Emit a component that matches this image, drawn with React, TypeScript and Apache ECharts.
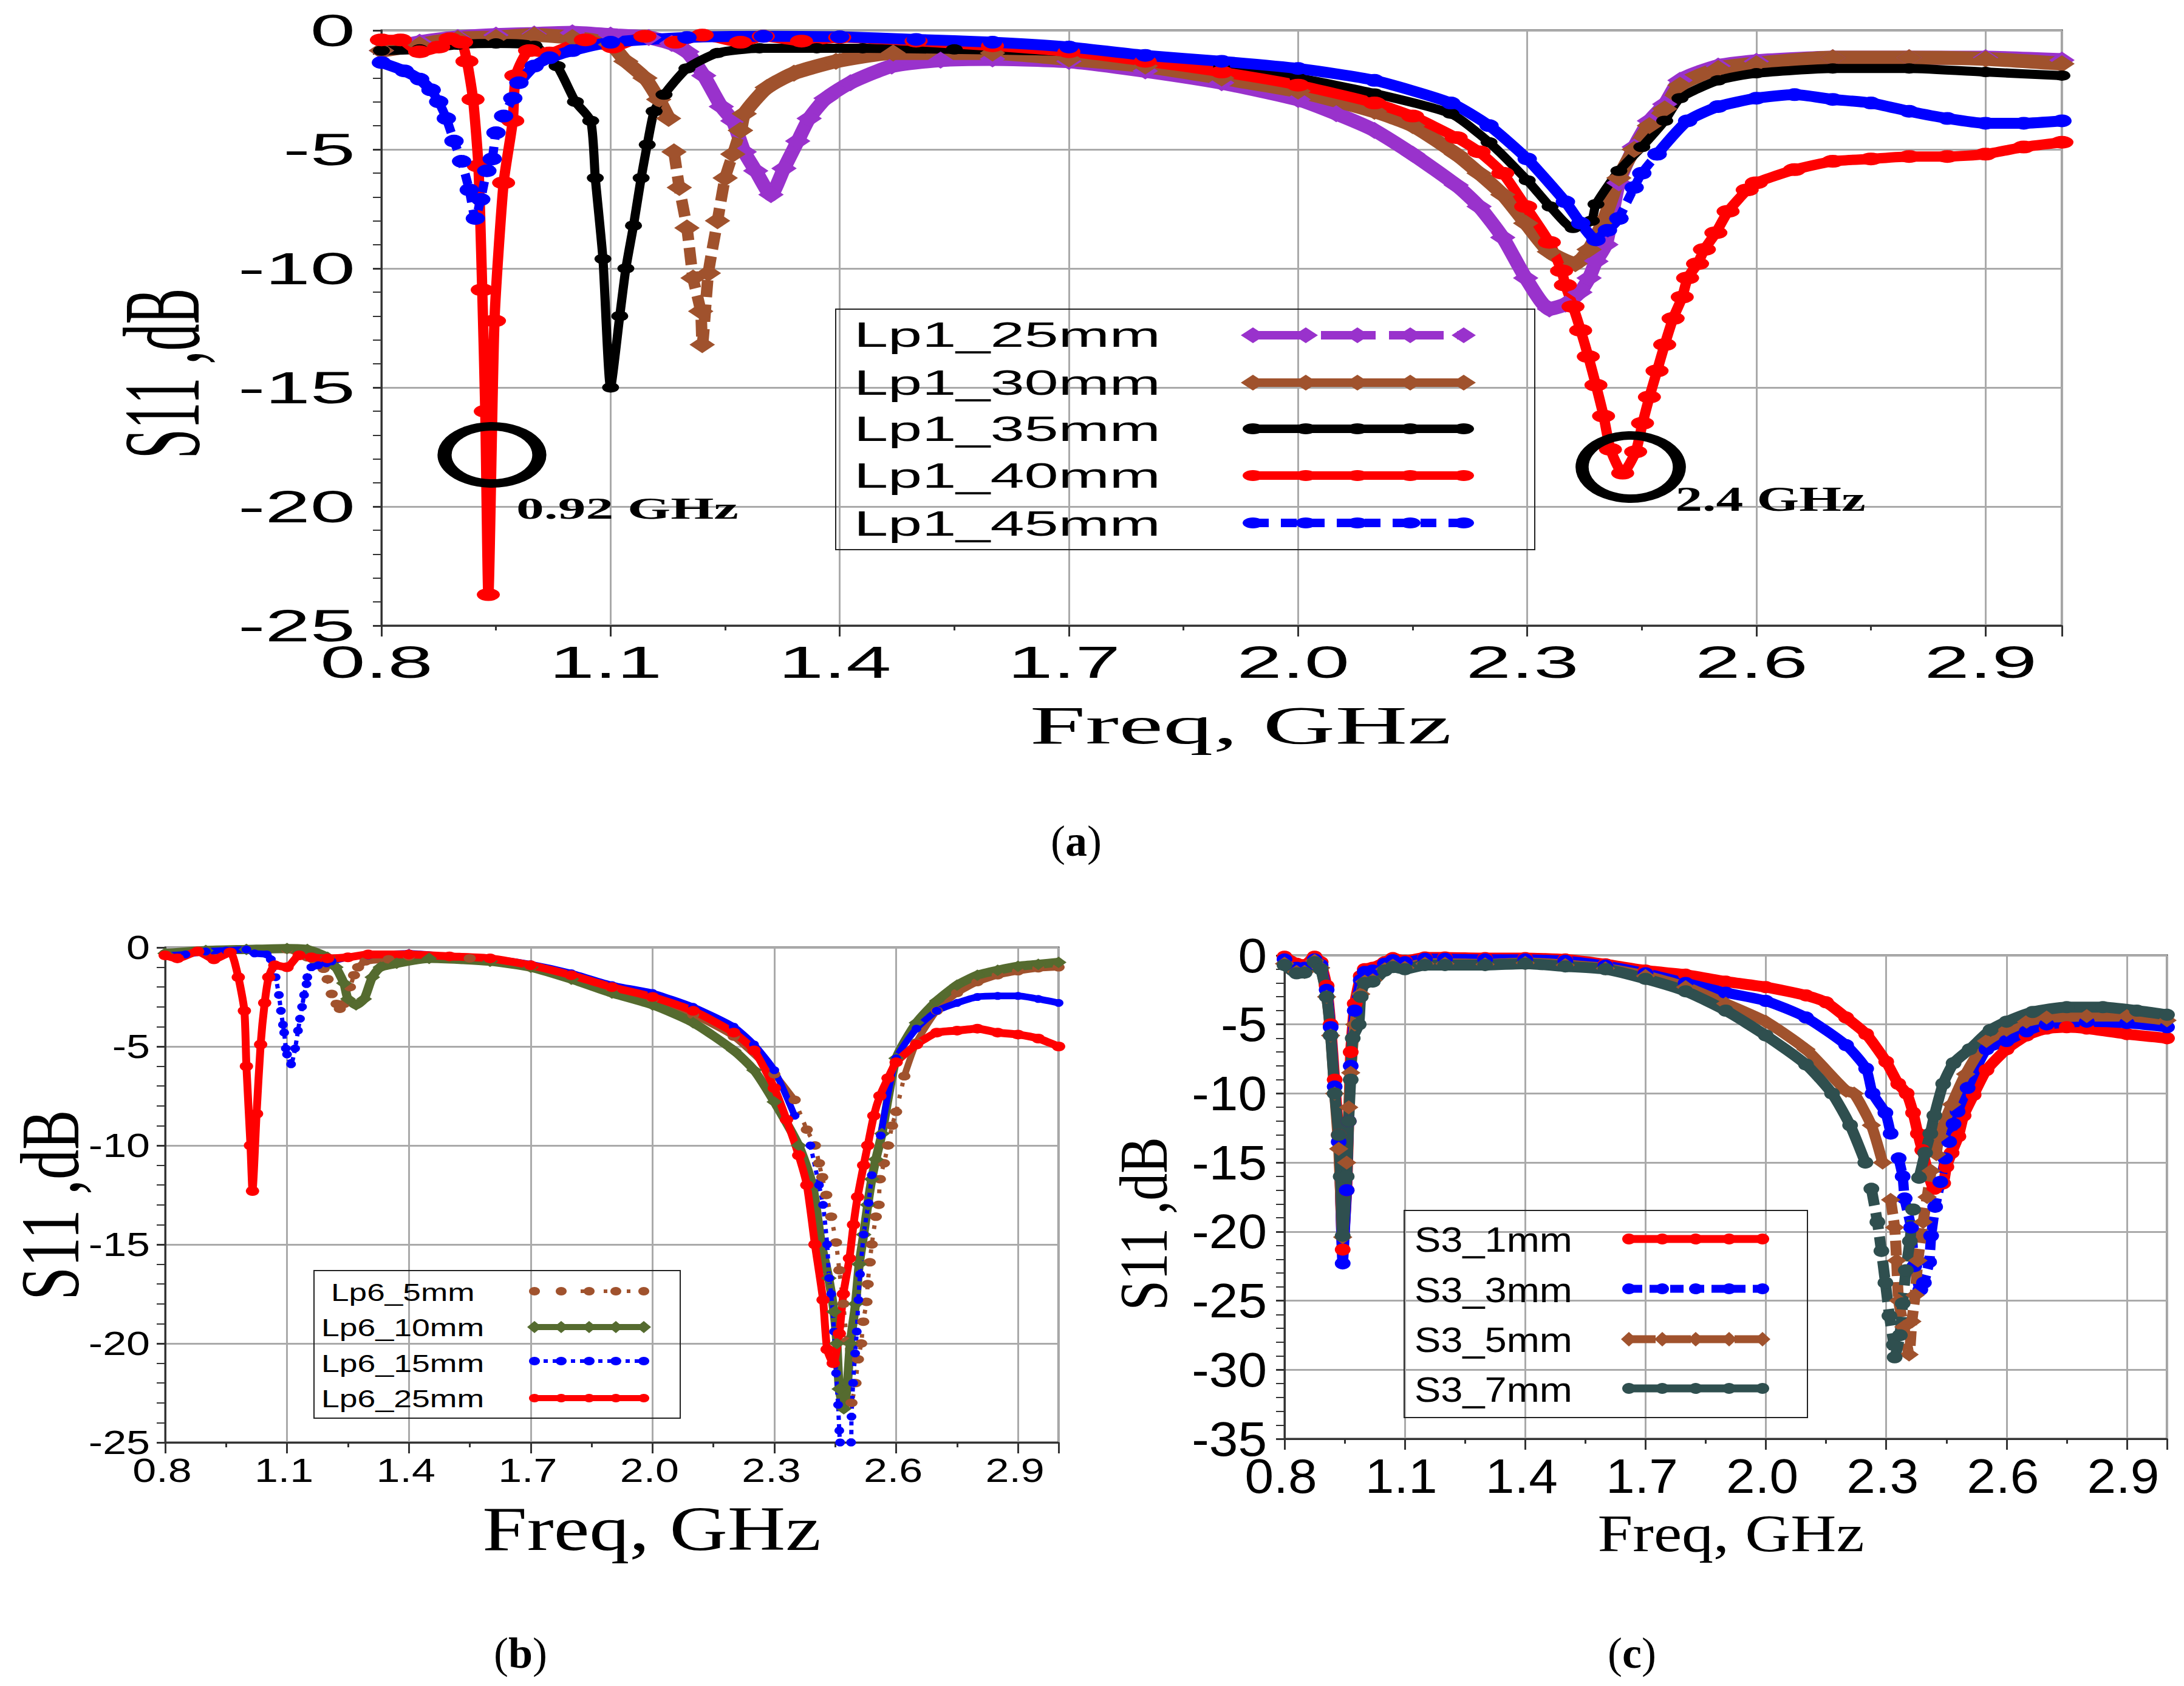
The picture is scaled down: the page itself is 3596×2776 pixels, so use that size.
import { useEffect, useRef } from 'react';
import * as echarts from 'echarts';

type Pt = [number, number];

const SANS = '"Liberation Sans"';
const SERIF = '"Liberation Serif"';

const COLORS = {
  purple: '#9932CC',
  brown: '#A0522D',
  black: '#000000',
  red: '#FF0000',
  blue: '#0000FF',
  olive: '#556B2F',
  slate: '#2F4F4F',
};

const xTickLabels = ['0.8', '1.1', '1.4', '1.7', '2.0', '2.3', '2.6', '2.9'];
const xMinorTicks = [0.95, 1.25, 1.55, 1.85, 2.15, 2.45, 2.75];
const yTickLabels25 = ['0', '-5', '-10', '-15', '-20', '-25'];
const yTickLabels35 = ['0', '-5', '-10', '-15', '-20', '-25', '-30', '-35'];

const legendA = ['Lp1_25mm', 'Lp1_30mm', 'Lp1_35mm', 'Lp1_40mm', 'Lp1_45mm'];
const legendB = ['Lp6_5mm', 'Lp6_10mm', 'Lp6_15mm', 'Lp6_25mm'];
const legendC = ['S3_1mm', 'S3_3mm', 'S3_5mm', 'S3_7mm'];

// panel (a)
const lp1_25: Pt[] = [[0.8,-0.85],[0.85,-0.5],[0.9,-0.3],[0.95,-0.2],[1.0,-0.15],[1.05,-0.1],[1.1,-0.2],[1.15,-0.3],[1.18,-0.55],[1.2,-0.9],[1.222,-1.9],[1.245,-3.2],[1.26,-3.8],[1.275,-5.1],[1.29,-5.9],[1.31,-6.9],[1.327,-5.8],[1.345,-4.65],[1.36,-3.7],[1.382,-2.85],[1.414,-2.2],[1.468,-1.5],[1.532,-1.25],[1.6,-1.2],[1.7,-1.3],[1.8,-1.7],[1.9,-2.2],[2.0,-2.9],[2.05,-3.5],[2.1,-4.2],[2.15,-5.2],[2.207,-6.5],[2.237,-7.4],[2.268,-8.7],[2.298,-10.4],[2.329,-11.7],[2.35,-11.5],[2.369,-11],[2.381,-10.4],[2.39,-9.7],[2.403,-9],[2.42,-6.4],[2.44,-4.9],[2.46,-3.8],[2.48,-3.1],[2.5,-2.1],[2.55,-1.5],[2.6,-1.3],[2.7,-1.15],[2.8,-1.15],[2.9,-1.15],[3.0,-1.25]];
const lp1_30: Pt[] = [[0.8,-0.85],[0.85,-0.6],[0.9,-0.35],[0.95,-0.3],[1.0,-0.2],[1.05,-0.3],[1.1,-0.6],[1.12,-1.3],[1.145,-2],[1.163,-2.9],[1.176,-3.7],[1.183,-5.1],[1.19,-6.6],[1.2,-8.3],[1.208,-10.4],[1.218,-11.8],[1.22,-13.2],[1.228,-10.2],[1.24,-8],[1.25,-6.2],[1.26,-5.2],[1.27,-4.2],[1.275,-3.5],[1.305,-2.4],[1.34,-1.8],[1.395,-1.3],[1.47,-0.95],[1.6,-0.95],[1.7,-1.2],[1.8,-1.5],[1.9,-2],[2.0,-2.55],[2.1,-3.4],[2.15,-4],[2.207,-5.2],[2.237,-6],[2.268,-6.9],[2.298,-8.1],[2.329,-9.3],[2.363,-9.8],[2.381,-9.2],[2.4,-8],[2.42,-6.2],[2.44,-5],[2.46,-4],[2.48,-3.3],[2.5,-2.3],[2.55,-1.6],[2.6,-1.4],[2.7,-1.15],[2.8,-1.15],[2.9,-1.2],[3.0,-1.4]];
const lp1_35: Pt[] = [[0.8,-0.85],[0.85,-0.8],[0.9,-0.6],[0.95,-0.55],[1.0,-0.65],[1.03,-1.5],[1.054,-3],[1.074,-3.8],[1.08,-6.2],[1.09,-9.6],[1.1,-15],[1.112,-12],[1.12,-10],[1.13,-8.2],[1.14,-6.2],[1.148,-4.8],[1.157,-3.4],[1.17,-2.7],[1.2,-1.6],[1.24,-0.95],[1.295,-0.75],[1.37,-0.75],[1.43,-0.75],[1.55,-0.8],[1.7,-0.9],[1.8,-1.2],[1.9,-1.55],[2.0,-2],[2.1,-2.65],[2.2,-3.5],[2.25,-4.7],[2.3,-6.3],[2.33,-7.4],[2.36,-8.3],[2.384,-8],[2.39,-7.3],[2.42,-5.9],[2.45,-4.9],[2.48,-3.8],[2.5,-2.85],[2.55,-2.1],[2.6,-1.8],[2.7,-1.6],[2.8,-1.6],[2.9,-1.75],[3.0,-1.9]];
const lp1_40: Pt[] = [[0.8,-0.4],[0.825,-0.4],[0.85,-0.9],[0.875,-0.7],[0.89,-0.35],[0.905,-0.5],[0.912,-1.3],[0.92,-2.9],[0.927,-5.7],[0.932,-10.9],[0.936,-16],[0.94,-23.7],[0.948,-12.2],[0.96,-6.4],[0.972,-3.8],[0.976,-1.9],[0.994,-0.85],[1.02,-0.95],[1.067,-0.4],[1.103,-0.7],[1.145,-0.25],[1.185,-0.5],[1.22,-0.2],[1.27,-0.5],[1.3,-0.25],[1.35,-0.45],[1.4,-0.3],[1.5,-0.45],[1.6,-0.65],[1.7,-0.9],[1.8,-1.3],[1.9,-1.75],[2.0,-2.3],[2.1,-3.05],[2.15,-3.6],[2.207,-4.5],[2.237,-5.1],[2.268,-6],[2.298,-7.4],[2.329,-8.9],[2.345,-10.1],[2.35,-10.7],[2.36,-11.6],[2.37,-12.6],[2.38,-13.7],[2.39,-14.9],[2.4,-16.2],[2.409,-17.6],[2.425,-18.6],[2.442,-17.7],[2.451,-16.5],[2.46,-15.4],[2.47,-14.3],[2.48,-13.2],[2.491,-12.1],[2.503,-11.2],[2.51,-10.4],[2.523,-9.8],[2.532,-9.2],[2.547,-8.5],[2.563,-7.6],[2.588,-6.7],[2.6,-6.4],[2.65,-5.85],[2.7,-5.5],[2.75,-5.4],[2.8,-5.3],[2.85,-5.3],[2.9,-5.2],[2.95,-4.9],[3.0,-4.7]];
const lp1_45: Pt[] = [[0.8,-1.35],[0.83,-1.7],[0.85,-2.05],[0.865,-2.5],[0.875,-3],[0.885,-3.7],[0.895,-4.65],[0.905,-5.5],[0.915,-6.7],[0.923,-7.9],[0.93,-7.1],[0.938,-5.9],[0.945,-5.4],[0.95,-4.3],[0.96,-3.6],[0.972,-2.85],[0.98,-2.2],[1.0,-1.5],[1.02,-1.15],[1.05,-0.85],[1.1,-0.5],[1.2,-0.3],[1.3,-0.25],[1.4,-0.27],[1.5,-0.38],[1.6,-0.5],[1.7,-0.7],[1.8,-1.05],[1.9,-1.3],[2.0,-1.6],[2.1,-2.1],[2.2,-3.05],[2.25,-4],[2.3,-5.4],[2.35,-7.2],[2.37,-8.1],[2.39,-8.8],[2.405,-8.4],[2.42,-7.9],[2.44,-6.6],[2.45,-6],[2.47,-5.2],[2.51,-3.8],[2.55,-3.2],[2.6,-2.85],[2.65,-2.7],[2.7,-2.9],[2.75,-3.05],[2.8,-3.4],[2.85,-3.7],[2.9,-3.9],[2.95,-3.9],[3.0,-3.8]];

// panel (b)
const lp6_5: Pt[] = [[0.8,-0.3],[0.9,-0.15],[1.0,-0.1],[1.1,-0.1],[1.15,-0.5],[1.19,-1.07],[1.2,-1.6],[1.21,-2.35],[1.222,-2.85],[1.23,-3.1],[1.24,-2.85],[1.255,-2],[1.265,-1.4],[1.275,-1],[1.293,-0.7],[1.35,-0.6],[1.4,-0.45],[1.55,-0.55],[1.7,-1],[1.8,-1.5],[1.9,-2.1],[2.0,-2.6],[2.1,-3.4],[2.2,-4.5],[2.3,-6.4],[2.35,-7.7],[2.38,-9.2],[2.4,-10],[2.41,-10.9],[2.418,-11.6],[2.428,-12.5],[2.44,-13.6],[2.452,-14.9],[2.46,-16.3],[2.47,-18],[2.478,-19.9],[2.49,-23],[2.5,-22],[2.506,-20.8],[2.514,-20],[2.519,-18.9],[2.527,-17.9],[2.53,-17],[2.535,-15.9],[2.54,-15],[2.55,-13.6],[2.557,-13],[2.56,-11.7],[2.57,-10.9],[2.58,-10],[2.59,-9],[2.6,-8.3],[2.62,-6.5],[2.65,-4.8],[2.7,-3.2],[2.75,-2.3],[2.8,-1.75],[2.85,-1.4],[2.9,-1.2],[2.95,-1.05],[3.0,-1]];
const lp6_10: Pt[] = [[0.8,-0.3],[0.9,-0.15],[1.0,-0.1],[1.1,-0.05],[1.15,-0.1],[1.2,-0.5],[1.22,-1],[1.24,-1.8],[1.25,-2.6],[1.27,-2.9],[1.29,-2.6],[1.31,-1.5],[1.33,-1],[1.37,-0.8],[1.45,-0.55],[1.6,-0.7],[1.7,-1],[1.8,-1.6],[1.9,-2.3],[2.0,-2.9],[2.1,-3.8],[2.2,-5.2],[2.25,-6.2],[2.3,-7.8],[2.36,-10],[2.394,-12],[2.416,-15],[2.434,-16.7],[2.447,-18.4],[2.454,-20],[2.46,-22.3],[2.471,-23.3],[2.48,-22],[2.487,-20],[2.5,-18],[2.509,-16],[2.52,-14.5],[2.53,-13],[2.54,-11.7],[2.55,-10.7],[2.565,-9.4],[2.6,-5.6],[2.65,-3.8],[2.7,-2.7],[2.75,-1.9],[2.8,-1.4],[2.85,-1.15],[2.9,-0.95],[2.95,-0.85],[3.0,-0.75]];
const lp6_15: Pt[] = [[0.8,-0.4],[0.85,-0.35],[0.9,-0.2],[0.95,-0.15],[1.0,-0.1],[1.02,-0.3],[1.05,-0.35],[1.06,-0.6],[1.072,-1.5],[1.08,-2.4],[1.085,-3.2],[1.09,-3.9],[1.093,-4.3],[1.097,-5.1],[1.1,-5.4],[1.11,-5.9],[1.12,-5.1],[1.127,-4.2],[1.132,-3.6],[1.137,-3],[1.142,-2.4],[1.148,-1.85],[1.15,-1.5],[1.16,-1],[1.177,-0.9],[1.197,-0.8],[1.21,-0.7],[1.25,-0.5],[1.3,-0.4],[1.4,-0.3],[1.5,-0.45],[1.6,-0.55],[1.7,-0.85],[1.8,-1.3],[1.9,-1.9],[2.0,-2.3],[2.1,-3],[2.2,-4],[2.25,-4.9],[2.3,-6.2],[2.35,-8.5],[2.389,-10],[2.41,-12],[2.42,-13],[2.43,-15],[2.435,-16.7],[2.44,-17.5],[2.447,-19.4],[2.452,-21.5],[2.457,-23.1],[2.46,-24.4],[2.462,-25],[2.475,-26],[2.489,-25],[2.49,-23.7],[2.494,-22],[2.499,-20.5],[2.503,-19.4],[2.507,-17.8],[2.511,-16.5],[2.52,-14.5],[2.532,-12.9],[2.54,-11.5],[2.562,-9.5],[2.6,-5.6],[2.65,-4.1],[2.7,-3.2],[2.75,-2.8],[2.8,-2.5],[2.85,-2.45],[2.9,-2.45],[2.95,-2.6],[3.0,-2.8]];
const lp6_25: Pt[] = [[0.8,-0.4],[0.83,-0.55],[0.88,-0.2],[0.92,-0.6],[0.96,-0.25],[0.98,-1.5],[0.995,-3.2],[1.0,-6],[1.01,-10],[1.015,-12.3],[1.025,-8.4],[1.035,-4.9],[1.045,-2.8],[1.055,-1.5],[1.07,-0.9],[1.1,-1],[1.13,-0.4],[1.16,-0.5],[1.2,-0.55],[1.25,-0.5],[1.3,-0.35],[1.4,-0.35],[1.5,-0.45],[1.6,-0.55],[1.7,-0.9],[1.8,-1.4],[1.9,-2],[2.0,-2.5],[2.1,-3.2],[2.2,-4.3],[2.25,-5.2],[2.3,-7.1],[2.33,-8.7],[2.36,-10.5],[2.38,-12],[2.4,-15],[2.42,-17.8],[2.43,-20.3],[2.445,-21],[2.46,-19.5],[2.47,-17.5],[2.485,-15.7],[2.495,-14],[2.505,-12.6],[2.52,-11],[2.53,-10],[2.545,-8.5],[2.56,-7.5],[2.58,-6.6],[2.6,-5.8],[2.65,-4.9],[2.7,-4.3],[2.75,-4.2],[2.8,-4.1],[2.85,-4.3],[2.9,-4.4],[2.95,-4.6],[3.0,-5]];

// panel (c)
const s3_1: Pt[] = [[0.8,-0.1],[0.83,-0.6],[0.85,-0.7],[0.875,-0.1],[0.89,-0.5],[0.905,-2.2],[0.915,-5],[0.925,-9],[0.935,-13],[0.945,-21.3],[0.955,-17],[0.96,-12],[0.965,-7],[0.975,-3.5],[0.99,-1.5],[1.0,-1],[1.02,-0.9],[1.05,-0.5],[1.07,-0.2],[1.1,-0.4],[1.15,-0.15],[1.2,-0.15],[1.3,-0.2],[1.4,-0.2],[1.5,-0.3],[1.6,-0.65],[1.7,-1.1],[1.8,-1.4],[1.9,-1.9],[2.0,-2.3],[2.1,-2.9],[2.15,-3.4],[2.2,-4.5],[2.25,-5.7],[2.3,-7.7],[2.33,-9.3],[2.351,-10],[2.367,-11.4],[2.379,-12.9],[2.39,-14.1],[2.42,-16.9],[2.442,-16.5],[2.45,-15.3],[2.463,-14.3],[2.48,-13.1],[2.493,-11.6],[2.518,-10.1],[2.55,-8.3],[2.6,-6.8],[2.65,-5.8],[2.7,-5.3],[2.75,-5.2],[2.8,-5.3],[2.9,-5.7],[3.0,-6]];
const s3_3: Pt[] = [[0.8,-0.3],[0.83,-0.9],[0.85,-0.9],[0.875,-0.3],[0.89,-0.7],[0.905,-2.5],[0.915,-5.2],[0.925,-9.5],[0.935,-13.5],[0.945,-22.3],[0.955,-17],[0.96,-12],[0.965,-8],[0.975,-4],[0.99,-1.8],[1.0,-1.2],[1.02,-1.1],[1.05,-0.6],[1.07,-0.35],[1.1,-0.5],[1.15,-0.25],[1.2,-0.25],[1.3,-0.3],[1.4,-0.3],[1.5,-0.4],[1.6,-0.75],[1.7,-1.3],[1.8,-2],[1.9,-2.7],[2.0,-3.3],[2.1,-4.5],[2.2,-6.5],[2.25,-8.2],[2.266,-10],[2.298,-11.4],[2.311,-12.9],[2.331,-14.7],[2.341,-16],[2.346,-17.6],[2.362,-19.7],[2.37,-22.5],[2.385,-24.2],[2.394,-23.7],[2.407,-22.2],[2.412,-20.3],[2.422,-18.2],[2.435,-16.4],[2.447,-14.7],[2.457,-13.5],[2.468,-12.2],[2.478,-11.3],[2.503,-9.6],[2.55,-6.8],[2.6,-6.2],[2.65,-5.5],[2.7,-5],[2.8,-4.8],[2.9,-4.9],[3.0,-5.2]];
const s3_5: Pt[] = [[0.8,-0.6],[0.83,-1.2],[0.85,-1.2],[0.875,-0.4],[0.89,-0.9],[0.905,-3],[0.915,-5.8],[0.925,-10],[0.935,-14],[0.945,-20.4],[0.955,-15],[0.96,-11],[0.965,-8.5],[0.975,-5],[0.99,-2.8],[1.0,-1.9],[1.02,-1.8],[1.05,-1],[1.07,-0.75],[1.1,-0.9],[1.15,-0.6],[1.2,-0.6],[1.3,-0.65],[1.4,-0.55],[1.5,-0.7],[1.6,-0.95],[1.7,-1.5],[1.8,-2.3],[1.9,-3.5],[2.0,-4.8],[2.1,-6.8],[2.2,-9.8],[2.22,-10],[2.263,-12.3],[2.291,-15],[2.311,-17.7],[2.321,-19.7],[2.326,-22.1],[2.331,-25],[2.344,-26.9],[2.357,-28.9],[2.364,-26.5],[2.372,-24.6],[2.379,-22.1],[2.392,-19.3],[2.402,-17.5],[2.412,-15.6],[2.425,-14.4],[2.432,-13.1],[2.463,-10.8],[2.498,-8.6],[2.55,-6.2],[2.6,-5.4],[2.65,-4.8],[2.7,-4.5],[2.8,-4.4],[2.9,-4.4],[3.0,-4.7]];
const s3_7: Pt[] = [[0.8,-0.7],[0.83,-1.3],[0.85,-1.25],[0.875,-0.5],[0.89,-1],[0.905,-3],[0.915,-5.8],[0.925,-10],[0.935,-13],[0.94,-16],[0.945,-20.3],[0.955,-16],[0.96,-12],[0.965,-9],[0.97,-6],[0.985,-5],[0.99,-3],[1.0,-2],[1.02,-1.9],[1.05,-1.1],[1.07,-0.85],[1.1,-1],[1.15,-0.7],[1.2,-0.7],[1.3,-0.7],[1.4,-0.6],[1.5,-0.8],[1.6,-1],[1.7,-1.7],[1.8,-2.6],[1.9,-4],[2.0,-5.8],[2.1,-7.9],[2.165,-10],[2.21,-12.3],[2.248,-15],[2.263,-16.9],[2.278,-19.3],[2.288,-21.4],[2.298,-23.7],[2.308,-26.1],[2.319,-28.2],[2.321,-29.1],[2.334,-27.5],[2.341,-25.2],[2.349,-22.8],[2.359,-20.7],[2.367,-18.4],[2.382,-16.1],[2.397,-14.3],[2.41,-12.9],[2.42,-11.6],[2.442,-9.3],[2.468,-7.8],[2.508,-6.8],[2.56,-5.4],[2.6,-4.8],[2.665,-4.1],[2.75,-3.75],[2.84,-3.75],[2.925,-4],[3.0,-4.3]];

const panels = [
  { left: 628, top: 50, width: 2767, height: 980, yMin: -25, yLabels: yTickLabels25, fs: 75, sx: 1.78, xLabelY: 1090, xLabelShift: -8, yLabelX: 585 },
  { left: 272, top: 1560, width: 1471, height: 815, yMin: -25, yLabels: yTickLabels25, fs: 56, sx: 1.25, xLabelY: 2421, xLabelShift: -5, yLabelX: 247 },
  { left: 2115, top: 1573, width: 1453, height: 796, yMin: -35, yLabels: yTickLabels35, fs: 80, sx: 1.07, xLabelY: 2430, xLabelShift: -6, yLabelX: 2086 },
];

type Trace = {
  data: Pt[];
  name: string;
  color: string;
  panel: number;
  width: number;
  dashWidth?: number;
  symbol: string;
  size: [number, number];
  dash?: number[];
  dashRanges?: [number, number][];
  clip?: boolean;
};

const traces: Trace[] = [
  { data: lp1_25, name: legendA[0], color: COLORS.purple, panel: 0, width: 23, symbol: 'diamond', size: [42, 28] },
  { data: lp1_30, name: legendA[1], color: COLORS.brown, panel: 0, width: 23, dashWidth: 19, symbol: 'diamond', size: [42, 28], dash: [28, 12], dashRanges: [[1.18, 1.27]] },
  { data: lp1_35, name: legendA[2], color: COLORS.black, panel: 0, width: 15, symbol: 'circle', size: [28, 17] },
  { data: lp1_40, name: legendA[3], color: COLORS.red, panel: 0, width: 17, symbol: 'circle', size: [38, 21] },
  { data: lp1_45, name: legendA[4], color: COLORS.blue, panel: 0, width: 18, dashWidth: 15, symbol: 'circle', size: [32, 21], dash: [18, 12], dashRanges: [[0.865, 0.975], [2.42, 2.47]] },

  { data: lp6_5, name: legendB[0], color: COLORS.brown, panel: 1, width: 11, dashWidth: 7, symbol: 'circle', size: [20, 14], dash: [6, 14], dashRanges: [[1.19, 1.27], [2.35, 2.62]] },
  { data: lp6_10, name: legendB[1], color: COLORS.olive, panel: 1, width: 15, symbol: 'diamond', size: [26, 19] },
  { data: lp6_15, name: legendB[2], color: COLORS.blue, panel: 1, width: 11, dashWidth: 7, symbol: 'circle', size: [16, 13], dash: [7, 7], dashRanges: [[1.06, 1.16], [2.36, 2.56]], clip: true },
  { data: lp6_25, name: legendB[3], color: COLORS.red, panel: 1, width: 13, symbol: 'circle', size: [22, 16] },

  { data: s3_1, name: legendC[0], color: COLORS.red, panel: 2, width: 18, symbol: 'circle', size: [26, 20] },
  { data: s3_3, name: legendC[1], color: COLORS.blue, panel: 2, width: 17, symbol: 'circle', size: [26, 20], dash: [22, 10], dashRanges: [[2.33, 2.45]] },
  { data: s3_5, name: legendC[2], color: COLORS.brown, panel: 2, width: 18, symbol: 'diamond', size: [32, 23], dash: [24, 10], dashRanges: [[2.31, 2.42]] },
  { data: s3_7, name: legendC[3], color: COLORS.slate, panel: 2, width: 18, symbol: 'circle', size: [26, 20], dash: [28, 12], dashRanges: [[2.26, 2.37]] },
];

function buildSeries(t: Trace) {
  const ranges = t.dashRanges ?? [];
  const inDash = (f: number) => ranges.some(([a, b]) => f > a && f < b);
  const base = {
    type: 'line',
    name: t.name,
    xAxisIndex: t.panel * 2,
    yAxisIndex: t.panel,
    symbol: t.symbol,
    symbolSize: t.size,
    showSymbol: true,
    showAllSymbol: true,
    smooth: 0.2,
    clip: !!t.clip,
    silent: true,
    itemStyle: { color: t.color },
  };
  const out: any[] = [
    {
      ...base,
      data: t.data.map((p) => (inDash(p[0]) ? [p[0], '-'] : p)),
      lineStyle: { color: t.color, width: t.width },
    },
  ];
  // dips are drawn with the dash, the flat parts stay solid
  ranges.forEach(([a, b]) => {
    out.push({
      ...base,
      data: t.data.filter((p) => p[0] >= a && p[0] <= b),
      lineStyle: { color: t.color, width: t.dashWidth ?? t.width, type: t.dash, cap: 'butt' },
    });
  });
  return out;
}

function label(text: string, x: number, y: number, fontSize: number, scaleX: number, extra: any = {}) {
  const { align = 'center', family = SANS, weight = 'normal', scaleY = 1, rotation = 0 } = extra;
  return {
    type: 'text',
    x,
    y,
    scaleX,
    scaleY,
    rotation,
    z: 100,
    style: { text, fontSize, fontFamily: family, fontWeight: weight, fill: '#000', align, verticalAlign: 'middle' },
  };
}

function tickLabels() {
  const out: any[] = [];
  panels.forEach((p) => {
    xTickLabels.forEach((t) => {
      const x = p.left + ((Number(t) - 0.8) / 2.2) * p.width + p.xLabelShift;
      out.push(label(t, x, p.xLabelY, p.fs, p.sx));
    });
    p.yLabels.forEach((t) => {
      const y = p.top + (Number(t) / p.yMin) * p.height;
      out.push(label(t, p.yLabelX, y, p.fs, p.sx, { align: 'right' }));
    });
  });
  return out;
}

function legendBox(x: number, y: number, w: number, h: number) {
  return { type: 'rect', z: 100, shape: { x, y, width: w, height: h }, style: { fill: 'none', stroke: '#222', lineWidth: 2 } };
}

function sample(t: Trace, xs: number[], y: number, w: number, size: [number, number], dash?: number[]) {
  const out: any[] = [
    {
      type: 'line',
      z: 100,
      shape: { x1: xs[0], y1: y, x2: xs[xs.length - 1], y2: y },
      style: { stroke: t.color, lineWidth: w, lineDash: dash },
    },
  ];
  xs.forEach((x) => {
    if (t.symbol === 'diamond') {
      out.push({
        type: 'polygon',
        z: 101,
        shape: { points: [[x - size[0] / 2, y], [x, y - size[1] / 2], [x + size[0] / 2, y], [x, y + size[1] / 2]] },
        style: { fill: t.color },
      });
    } else {
      out.push({ type: 'ellipse', z: 101, shape: { cx: x, cy: y, rx: size[0] / 2, ry: size[1] / 2 }, style: { fill: t.color } });
    }
  });
  return out;
}

function legends() {
  const out: any[] = [legendBox(1376, 509, 1151, 396), legendBox(517, 2092, 603, 243), legendBox(2312, 1993, 664, 341)];
  const rowA = [551, 630, 706, 783, 862];
  const lineA = [552, 630, 706, 783, 861];
  const xsA = [2063, 2150, 2235, 2322, 2410];
  const dashA = [[90, 22], undefined, undefined, undefined, [26, 20]];
  legendA.forEach((t, i) => {
    out.push(label(t, 1406, rowA[i], 58, 1.74, { align: 'left' }));
    const tr = traces[i];
    out.push(...sample(tr, xsA, lineA[i], 14, i < 2 ? [40, 26] : [34, 18], dashA[i]));
  });
  const rowB = [2128, 2186, 2245, 2303];
  const lineB = [2126, 2185, 2241, 2302];
  const xsB = [880, 924, 970, 1014, 1060];
  const dashB = [[6, 32], undefined, [7, 8], undefined];
  legendB.forEach((t, i) => {
    out.push(label(t, i === 0 ? 545 : 529, rowB[i], 40, i === 0 ? 1.33 : 1.34, { align: 'left' }));
    const tr = traces[5 + i];
    out.push(...sample(tr, xsB, lineB[i], i === 0 ? 6 : i === 2 ? 6 : 10, i === 1 ? [24, 20] : [18, 14], dashB[i]));
  });
  const rowC = [2041, 2124, 2206, 2288];
  const lineC = [2040, 2122, 2205, 2286];
  const xsC = [2682, 2737, 2792, 2847, 2902];
  const dashC = [undefined, [22, 12], [44, 14], undefined];
  legendC.forEach((t, i) => {
    out.push(label(t, 2329, rowC[i], 58, 1.12, { align: 'left' }));
    const tr = traces[9 + i];
    out.push(...sample(tr, xsC, lineC[i], 13, i === 2 ? [26, 24] : [22, 18], dashC[i]));
  });
  return out;
}

function titles() {
  const rot = Math.PI / 2;
  return [
    label('S11 ,dB', 267, 615, 100, 0.88, { family: SERIF, scaleY: 1.8, rotation: rot }),
    label('Freq, GHz', 2043, 1194, 88, 1.87, { family: SERIF }),
    label('S11 ,dB', 82, 1984, 120, 0.82, { family: SERIF, scaleY: 1.15, rotation: rot }),
    label('Freq, GHz', 1073, 2517, 104, 1.27, { family: SERIF }),
    label('S11 ,dB', 1883, 2015, 112, 0.8, { family: SERIF, rotation: rot }),
    label('Freq, GHz', 2850, 2525, 86, 1.21, { family: SERIF }),
  ];
}

function caption(letter: string, x: number, y: number) {
  return {
    type: 'text',
    x,
    y,
    z: 100,
    style: {
      text: `{n|(}{b|${letter}}{n|)}`,
      align: 'center',
      verticalAlign: 'middle',
      rich: {
        n: { fontFamily: SERIF, fontSize: 72, fill: '#000' },
        b: { fontFamily: SERIF, fontSize: 72, fontWeight: 'bold', fill: '#000' },
      },
    },
  };
}

function notes() {
  // a circle stretched sideways, so its stroke is wider on the left and right, as in the picture
  const ring = (x: number, y: number, r: number, scaleX: number) => ({
    type: 'circle',
    z: 102,
    x,
    y,
    scaleX,
    shape: { cx: 0, cy: 0, r },
    style: { fill: 'none', stroke: '#000', lineWidth: 14 },
  });
  return [
    ring(810, 749, 47, 1.66),
    ring(2685, 769, 52, 1.54),
    label('0.92 GHz', 1033, 837, 50, 1.83, { family: SERIF, weight: 'bold' }),
    label('2.4 GHz', 2915, 822, 56, 1.6, { family: SERIF, weight: 'bold' }),
    caption('a', 1772, 1385),
    caption('b', 857, 2722),
    caption('c', 2687, 2722),
  ];
}

export default function App() {
  const chartRef = useRef<HTMLDivElement>(null);

  useEffect(() => {
    const chart = echarts.init(chartRef.current, null, { renderer: 'svg' });
    const majorTicks = [...xTickLabels.map(Number), 3.0];
    const option = {
      animation: false,
      backgroundColor: '#fff',
      grid: panels.map((p) => ({
        left: p.left,
        top: p.top,
        width: p.width,
        height: p.height,
        show: true,
        borderColor: '#333',
        borderWidth: 3,
      })),
      // every panel has two x axes: majors with grid lines, and one only for the small ticks
      xAxis: panels.flatMap((_, i) => [
        {
          type: 'value',
          gridIndex: i,
          min: 0.8,
          max: 3.0,
          axisLine: { onZero: false, lineStyle: { color: '#333', width: 3 } },
          axisTick: { show: true, length: 18, customValues: majorTicks, lineStyle: { color: '#333', width: 3 } },
          axisLabel: { show: false },
          splitLine: { show: true, lineStyle: { color: '#aaa', width: 3 } },
        },
        {
          type: 'value',
          gridIndex: i,
          min: 0.8,
          max: 3.0,
          position: 'bottom',
          axisLine: { show: false, onZero: false },
          axisTick: { show: true, length: 8, customValues: xMinorTicks, lineStyle: { color: '#333', width: 3 } },
          axisLabel: { show: false },
          splitLine: { show: false },
        },
      ]),
      yAxis: panels.map((p, i) => ({
        type: 'value',
        gridIndex: i,
        min: p.yMin,
        max: 0,
        interval: 5,
        axisLine: { show: true, onZero: false, lineStyle: { color: '#333', width: 3 } },
        axisTick: { show: true, length: 14, lineStyle: { color: '#333', width: 3 } },
        minorTick: { show: true, splitNumber: 5, length: 14, lineStyle: { color: '#333', width: 2 } },
        axisLabel: { show: false },
        splitLine: { show: true, lineStyle: { color: '#aaa', width: 3 } },
      })),
      series: traces.flatMap(buildSeries),
      graphic: [...tickLabels(), ...titles(), ...legends(), ...notes()],
    };
    chart.setOption(option as any);
    return () => {
      chart.dispose();
    };
  }, []);

  return <div ref={chartRef} style={{ position: 'absolute', left: 0, top: 0, width: '3596px', height: '2776px' }} />;
}
